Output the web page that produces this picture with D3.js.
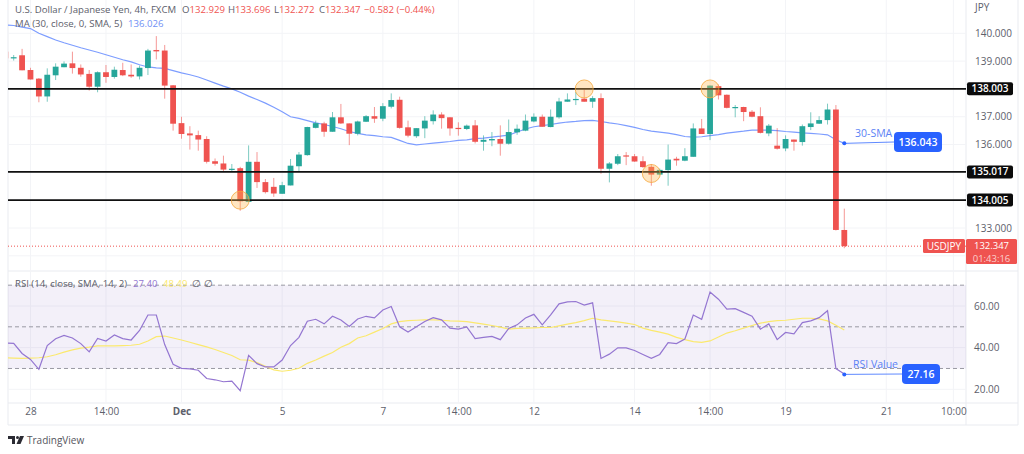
<!DOCTYPE html>
<html>
<head>
<meta charset="utf-8">
<script src="https://cdn.jsdelivr.net/npm/d3@7"></script>
<style>
body { margin: 0; background: #fff; }
text { font-family: "Open Sans", sans-serif; }
</style>
</head>
<body>
<div id="chart"></div>
<script>
// 4h candles, one entry per bar, left to right
const opens = [139.34,139.10,139.21,138.68,138.37,137.73,138.49,138.78,138.92,138.76,138.54,138.08,138.60,138.43,138.68,138.51,138.45,138.75,139.40,139.38,138.13,136.77,136.40,136.34,136.20,135.40,135.32,135.10,135.15,133.94,135.38,134.65,134.48,134.23,134.53,135.22,135.62,136.60,136.76,136.46,136.98,136.76,136.39,136.82,137.02,136.93,137.36,137.61,136.62,136.30,136.58,136.84,137.08,136.98,136.60,136.56,136.69,136.10,136.15,136.20,136.03,136.44,136.50,136.83,137.00,136.63,136.98,137.54,137.61,137.65,137.54,137.67,135.13,135.31,135.61,135.58,135.40,135.20,134.92,135.08,135.49,135.42,135.56,136.58,136.38,138.10,137.79,137.32,137.35,137.18,137.02,136.40,135.96,135.86,136.18,136.09,136.63,136.75,136.88,137.26,132.929];
const highs = [139.40,139.22,139.44,138.76,138.39,138.74,138.92,138.99,139.34,138.88,138.68,138.63,138.86,138.80,138.94,138.88,138.84,139.44,139.90,139.58,138.14,137.00,136.66,136.50,136.30,135.50,135.60,135.30,135.20,135.97,135.73,134.76,134.80,134.66,135.48,135.73,136.64,136.86,136.82,137.17,137.46,136.76,136.86,137.06,137.35,137.49,137.84,137.72,136.86,136.59,137.02,137.23,137.16,136.98,136.80,136.72,136.88,136.33,136.45,136.69,136.90,136.72,137.08,137.12,137.08,137.26,137.68,137.84,137.89,137.98,137.74,137.84,135.37,135.66,135.73,135.66,135.58,135.30,135.14,136.00,135.56,135.87,136.76,136.92,138.12,138.16,137.80,137.42,137.36,137.24,137.34,136.74,136.59,136.33,136.18,136.72,137.16,137.02,137.47,137.42,133.696];
const lows = [139.06,139.02,138.67,138.34,137.52,137.54,138.32,138.78,138.55,138.44,137.94,137.88,138.22,138.37,138.46,138.40,138.34,138.50,139.06,137.65,136.50,136.21,135.82,135.78,135.32,135.24,135.03,135.04,133.62,133.94,134.44,134.24,134.12,134.23,134.53,135.03,135.60,136.58,136.28,136.46,136.74,135.98,136.33,136.81,136.78,136.84,137.30,136.57,136.26,136.24,136.23,136.72,136.57,136.32,136.32,136.52,136.04,135.78,135.94,135.60,136.00,136.35,136.48,136.80,136.64,136.62,136.93,137.54,137.42,137.54,137.32,134.95,134.64,135.26,135.26,135.38,135.16,134.52,134.90,134.52,135.24,135.40,135.56,136.38,136.16,137.62,137.30,136.98,136.84,136.98,136.40,136.30,135.82,135.76,135.78,135.96,136.52,136.74,136.72,132.91,132.272];
const closes = [139.10,139.14,138.67,138.34,137.73,138.51,138.80,138.91,138.75,138.52,138.08,138.60,138.43,138.69,138.49,138.45,138.76,139.38,139.35,138.12,136.75,136.38,136.33,136.18,135.38,135.31,135.10,135.13,133.96,135.38,134.65,134.29,134.24,134.54,135.24,135.64,136.63,136.77,136.46,136.98,136.76,136.39,136.83,137.02,136.93,137.38,137.60,136.60,136.32,136.59,136.86,137.08,136.95,136.58,136.57,136.68,136.10,136.17,136.20,136.03,136.45,136.57,136.86,137.00,136.64,137.00,137.55,137.62,137.64,137.54,137.67,135.13,135.32,135.58,135.58,135.39,135.19,134.92,135.09,135.46,135.43,135.58,136.58,136.38,138.12,137.77,137.32,137.35,137.17,137.00,136.42,136.68,135.85,136.20,136.10,136.66,136.76,136.88,137.26,132.93,132.347];
const ma30 = [140.30,140.28,140.22,140.17,140.00,139.88,139.76,139.66,139.57,139.48,139.40,139.32,139.23,139.14,139.05,138.97,138.87,138.79,138.76,138.74,138.66,138.58,138.51,138.43,138.32,138.21,138.10,138.00,137.88,137.74,137.62,137.49,137.34,137.18,137.00,136.94,136.86,136.78,136.72,136.65,136.57,136.47,136.40,136.35,136.32,136.28,136.26,136.15,136.04,135.99,136.02,136.05,136.08,136.11,136.15,136.17,136.21,136.23,136.27,136.30,136.34,136.45,136.56,136.64,136.68,136.72,136.77,136.81,136.83,136.86,136.87,136.83,136.78,136.74,136.68,136.62,136.54,136.48,136.45,136.41,136.36,136.29,136.27,136.28,136.32,136.36,136.41,136.45,136.48,136.52,136.52,136.52,136.50,136.47,136.45,136.42,136.40,136.38,136.35,136.17,136.043];
const rsi = [42.26,42.10,37.20,34.36,29.62,41.00,44.31,45.89,44.63,41.94,37.99,44.47,43.21,46.05,44.31,43.68,48.26,55.69,55.69,41.47,31.99,30.09,29.78,29.15,25.20,24.57,23.62,23.93,19.35,36.26,32.31,30.73,30.73,34.04,41.00,44.94,52.69,53.63,51.42,55.06,53.32,50.16,53.79,55.06,54.27,58.06,59.79,50.00,47.47,50.00,52.53,54.42,53.32,49.37,48.89,50.00,44.31,44.94,45.42,43.84,49.21,50.95,54.27,56.00,50.95,55.69,61.06,62.01,62.16,60.43,61.53,34.83,36.89,39.89,39.89,38.63,36.73,34.83,36.73,42.42,41.94,44.15,55.69,53.63,66.75,63.27,58.53,58.69,56.95,55.06,48.89,51.42,43.84,47.31,46.68,52.05,52.84,54.42,57.74,29.94,27.40];
const rsiMa = [35.15,34.99,34.83,34.99,35.15,35.62,36.57,37.84,38.94,39.73,40.21,40.84,40.84,40.84,41.00,41.15,41.63,43.21,45.26,45.58,44.63,43.68,42.58,41.47,40.36,39.10,37.68,36.26,34.20,34.04,32.78,31.04,29.31,28.67,29.15,30.09,32.46,34.04,35.94,37.68,40.21,41.94,44.63,45.73,47.47,49.21,51.42,52.53,53.00,53.16,53.32,53.32,53.16,52.84,52.69,52.53,51.90,51.26,50.63,49.84,48.89,49.21,49.37,49.53,49.68,49.68,50.47,51.26,52.05,53.00,54.11,53.32,52.84,52.37,51.74,51.11,49.37,48.26,47.47,46.52,44.94,43.84,42.89,42.58,43.21,45.10,47.00,48.10,49.37,50.63,51.74,52.53,53.00,53.16,53.63,54.11,54.11,53.79,52.84,50.79,48.49];

const priceTicks = [132,133,134,135,136,137,138,139,140];
const rsiTicks = [20,40,60];
const rsiBands = [70,50,30];
const timeTickBars = [3,12,21,33,45,54,63,75,84,93,105,113];
const timeTickLabels = ["28","14:00","Dec","5","7","14:00","12","14","14:00","19","21","10:00"];
const levels = [138.003,135.017,134.005];
const touchBars = [28,69,77,84];
const touchPrices = [134.0,138.0,134.96,138.0];

const left = 8, axisX = 966, frameRight = 1018;
const paneSplit = 270, axisY = 403, frameBottom = 425;
const green = "#26a69a", red = "#ef5350", blue = "#2962ff", textCol = "#5d606b";

const x = d3.scaleLinear().domain([0,100]).range([5.3,844.3]);
const y = d3.scaleLinear().domain([140,133]).range([33.3,228]);
const yRsi = d3.scaleLinear().domain([60,20]).range([306,389.3]);

const svg = d3.select("#chart").append("svg")
    .attr("width",1024).attr("height",454)
    .style("display","block");

svg.append("defs").append("clipPath").attr("id","plot")
    .append("rect").attr("x",left).attr("y",0).attr("width",axisX-left).attr("height",frameBottom);

// frame
const frame = svg.append("g").attr("stroke","#e9ebf0").attr("fill","none");
frame.append("path").attr("d",`M${left},0V${frameBottom}H${frameRight}V0`);
frame.append("path").attr("d",`M${left},${paneSplit+1}H${frameRight}`);
frame.append("path").attr("d",`M${left},${axisY}H${frameRight}`);
frame.append("path").attr("d",`M${axisX},0V${frameBottom}`);

// vertical + horizontal grid
const grid = svg.append("g").attr("stroke","#f3f4f7");
timeTickBars.forEach(b => {
    grid.append("line").attr("x1",x(b)).attr("x2",x(b)).attr("y1",0).attr("y2",axisY);
});
priceTicks.forEach(p => {
    grid.append("line").attr("x1",left).attr("x2",axisX).attr("y1",y(p)).attr("y2",y(p));
});
rsiTicks.forEach(p => {
    grid.append("line").attr("x1",left).attr("x2",axisX).attr("y1",yRsi(p)).attr("y2",yRsi(p));
});

// rsi band
svg.append("rect").attr("x",left).attr("width",axisX-left)
    .attr("y",yRsi(70)).attr("height",yRsi(30)-yRsi(70))
    .attr("fill","#7e57c2").attr("opacity",0.09);
svg.selectAll(".band").data(rsiBands).enter().append("line")
    .attr("class","band")
    .attr("x1",left).attr("x2",axisX)
    .attr("y1",d => yRsi(d)).attr("y2",d => yRsi(d))
    .attr("stroke","#9a9aa3").attr("stroke-dasharray","4 3");

const plot = svg.append("g").attr("clip-path","url(#plot)");

// current price dotted line
plot.append("line").attr("x1",left).attr("x2",axisX)
    .attr("y1",y(closes[100])).attr("y2",y(closes[100]))
    .attr("stroke",red).attr("stroke-dasharray","1 2");

// moving average under the candles
const lineOf = (scale) => d3.line().x((d,i) => x(i)).y(d => scale(d));
plot.append("path").attr("d",lineOf(y)(ma30))
    .attr("fill","none").attr("stroke","#7d9dff").attr("stroke-width",1.2);

// candles
const bars = plot.selectAll(".candle").data(d3.range(opens.length)).enter().append("g").attr("class","candle");
bars.append("line")
    .attr("x1",i => x(i)).attr("x2",i => x(i))
    .attr("y1",i => y(highs[i])).attr("y2",i => y(lows[i]))
    .attr("stroke",i => closes[i] >= opens[i] ? green : red)
    .attr("stroke-opacity",0.6);
bars.append("rect")
    .attr("x",i => x(i)-2.9).attr("width",5.8)
    .attr("y",i => y(Math.max(opens[i],closes[i])))
    .attr("height",i => Math.max(1.2,Math.abs(y(opens[i])-y(closes[i]))))
    .attr("fill",i => closes[i] >= opens[i] ? green : red);

// support / resistance levels
svg.selectAll(".level").data(levels).enter().append("line")
    .attr("class","level")
    .attr("x1",left).attr("x2",axisX)
    .attr("y1",d => y(d)).attr("y2",d => y(d))
    .attr("stroke","#111").attr("stroke-width",1.8);

// touch markers
svg.selectAll(".touch").data(touchBars).enter().append("circle")
    .attr("class","touch")
    .attr("cx",d => x(d)).attr("cy",(d,i) => y(touchPrices[i]))
    .attr("r",9)
    .attr("fill","#ffb74d").attr("fill-opacity",0.35)
    .attr("stroke","#f5a63a").attr("stroke-opacity",0.8);

// rsi lines
plot.append("path").attr("d",lineOf(yRsi)(rsiMa))
    .attr("fill","none").attr("stroke","#fbe96e").attr("stroke-width",1.2);
plot.append("path").attr("d",lineOf(yRsi)(rsi))
    .attr("fill","none").attr("stroke","#9476d1").attr("stroke-width",1.2);

// axes
const styleAxis = (g) => {
    g.select(".domain").remove();
    g.selectAll(".tick line").remove();
    g.selectAll("text").attr("fill",textCol).style("font-size","10px").style("font-family",'"Open Sans", sans-serif');
};
svg.append("g").attr("transform",`translate(${axisX},0)`)
    .call(d3.axisRight(y).tickValues(priceTicks.filter(d => d > 132 && !levels.some(l => Math.abs(l-d) < 0.1))).tickFormat(d3.format(".3f")).tickPadding(9).tickSize(0))
    .call(styleAxis);
svg.append("g").attr("transform",`translate(${axisX},0)`)
    .call(d3.axisRight(yRsi).tickValues(rsiTicks).tickFormat(d3.format(".2f")).tickPadding(8).tickSize(0))
    .call(styleAxis);
svg.append("g").attr("transform",`translate(0,${axisY})`)
    .call(d3.axisBottom(x).tickValues(timeTickBars).tickFormat((d,i) => timeTickLabels[i]).tickPadding(5).tickSize(0))
    .call(styleAxis)
    .selectAll("text").style("font-weight",(d,i) => timeTickLabels[i] === "Dec" ? 700 : 400);

const label = (tx,ty,str,col,size,anchor,weight) => svg.append("text")
    .attr("x",tx).attr("y",ty).attr("fill",col).attr("text-anchor",anchor || "start")
    .style("font-size",(size || 10)+"px").style("font-weight",weight || 400).text(str);

// black level tags
levels.forEach(l => {
    svg.append("rect").attr("x",axisX+1).attr("y",y(l)-6.5).attr("width",46).attr("height",13).attr("rx",2).attr("fill","#0b0b0b");
    label(axisX+24,y(l)+3.5,d3.format(".3f")(l),"#fff",10,"middle",600);
});

// last price tags
svg.append("rect").attr("x",923).attr("y",239).attr("width",42).attr("height",14).attr("rx",1.5).attr("fill",red);
label(944,249.5,"USDJPY","#fff",10,"middle");
svg.append("rect").attr("x",966).attr("y",239).attr("width",51).attr("height",25).attr("rx",1.5).attr("fill",red);
label(991.5,248.5,d3.format(".3f")(closes[100]),"#fff",9.5,"middle");
label(991.5,261.5,"01:43:16","#fbd0ce",9.5,"middle");

// value callouts
const callout = (value,scale,boxX,boxW,boxH,name,nameX,nameY,lineY) => {
    const cx = x(100), cy = scale(value);
    svg.append("path").attr("d",`M${cx},${cy}L${boxX},${lineY}`).attr("stroke",blue).attr("fill","none").attr("opacity",0.75);
    svg.append("circle").attr("cx",cx).attr("cy",cy).attr("r",2).attr("fill",blue);
    svg.append("rect").attr("x",boxX).attr("y",lineY-boxH/2).attr("width",boxW).attr("height",boxH).attr("rx",4).attr("fill",blue);
    label(boxX+boxW/2,lineY+3.8,d3.format(value > 100 ? ".3f" : ".2f")(value),"#fff",10.5,"middle",600);
    label(nameX,nameY,name,"#5b82f5",10.5);
};
callout(ma30[100],y,894,48,20,"30-SMA",855,137,142);
callout(27.16,yRsi,902,38,20,"RSI Value",853,368,374);

// legends
label(15,12.5,"U.S. Dollar / Japanese Yen, 4h, FXCM",textCol,9.6);
[["O","132.929",182],["H","133.696",228],["L","132.272",274],["C","132.347",319]].forEach(d => {
    const t = label(d[2],12.5,"",textCol,9.6);
    t.append("tspan").text(d[0]);
    t.append("tspan").attr("fill",red).text(d[1]);
});
label(364,12.5,"−0.582 (−0.44%)",red,9.6);
label(15,27,"MA (30, close, 0, SMA, 5)",textCol,9.6);
label(128,27,"136.026","#6f8ff5",9.6);
label(15,286.5,"RSI (14, close, SMA, 14, 2)",textCol,9.6);
label(133,286.5,"27.40","#9476d1",9.6);
label(163,286.5,"48.49","#fbe96e",9.6);
label(192,286.5,"∅",textCol,9.6);
label(204,286.5,"∅",textCol,9.6);
label(975,11,"JPY",textCol,10);

// TradingView mark
const logo = svg.append("g").attr("fill","#2b2b33");
logo.append("path").attr("d","M8,436H15V444H12V439H8Z");
logo.append("circle").attr("cx",17.5).attr("cy",437.5).attr("r",1.5);
logo.append("path").attr("d","M20,436H24L20.5,444H16.5Z");
label(27,444,"TradingView","#55565e",10);
</script>
</body>
</html>
